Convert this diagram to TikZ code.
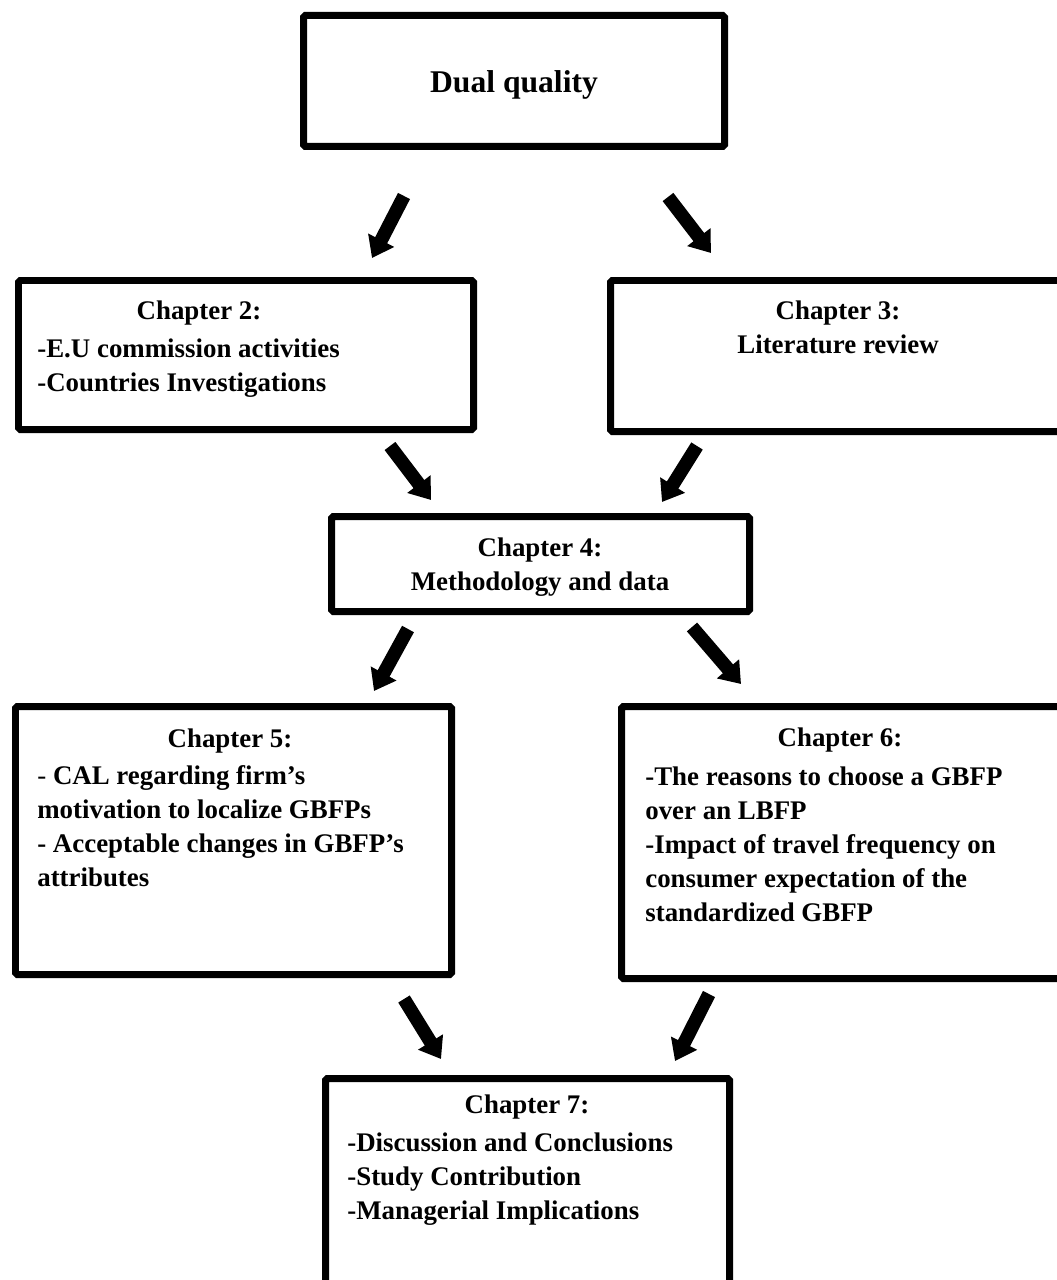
\documentclass[tikz,border=0pt]{standalone}
\usepackage{fontspec}
\setmainfont{Liberation Serif}
\usetikzlibrary{arrows.meta}

\tikzset{
  chapbox/.style={draw, line width=0.14cm, rounded corners=1pt, inner sep=0pt},
  chaptext/.style={font=\fontsize{15.3}{19.35}\selectfont\bfseries, inner sep=0pt},
  bigarrow/.style={line width=0.27cm, -{Triangle[width=0.56cm,length=0.4cm]}}
}

\begin{document}
\begin{tikzpicture}[x=0.02cm, y=-0.02cm]
  \useasboundingbox (0,0) rectangle (1057,1280);
  \clip (0,0) rectangle (1057,1280);

  % Define the ends of the arrows
  \coordinate (a1) at (404,196);  \coordinate (a1e) at (372,258);
  \coordinate (a2) at (668,197);  \coordinate (a2e) at (711,253);
  \coordinate (a3) at (390,446);  \coordinate (a3e) at (431,500);
  \coordinate (a4) at (697,446);  \coordinate (a4e) at (662,502);
  \coordinate (a5) at (408,629);  \coordinate (a5e) at (374,691);
  \coordinate (a6) at (692,627);  \coordinate (a6e) at (741,684);
  \coordinate (a7) at (404,999);  \coordinate (a7e) at (441,1059);
  \coordinate (a8) at (709,994);  \coordinate (a8e) at (675,1061);

  % Draw the boxes
  \node[chapbox, minimum width=421*0.02cm, minimum height=131*0.02cm] (dual) at (514,81) {};
  \node[chapbox, minimum width=455*0.02cm, minimum height=149*0.02cm] (ch2) at (246,355) {};
  \node[chapbox, minimum width=461*0.02cm, minimum height=151*0.02cm] (ch3) at (841,356) {};
  \node[chapbox, minimum width=418*0.02cm, minimum height=95*0.02cm] (ch4) at (540.5,564) {};
  \node[chapbox, minimum width=436*0.02cm, minimum height=268*0.02cm] (ch5) at (233.5,840.5) {};
  \node[chapbox, minimum width=450*0.02cm, minimum height=272*0.02cm] (ch6) at (846.5,842.5) {};
  \node[chapbox, minimum width=404*0.02cm, minimum height=240*0.02cm] (ch7) at (527.5,1198.5) {};

  % Texts in the boxes
  \node[chaptext, font=\fontsize{18}{22}\selectfont\bfseries] (dualt) at (514,85) {Dual quality};
  \node[chaptext] (ch2t) at (199,313) {Chapter 2:};
  \node[chaptext, align=left, anchor=north west] (ch2l) at (37,338)
    {-E.U commission activities\\-Countries Investigations};
  \node[chaptext, align=center, anchor=north] (ch3t) at (838,300) {Chapter 3:\\Literature review};
  \node[chaptext, align=center, anchor=north] (ch4t) at (540,537) {Chapter 4:\\Methodology and data};
  \node[chaptext] (ch5t) at (230,741) {Chapter 5:};
  \node[chaptext, align=left, anchor=north west] (ch5l) at (37,765)
    {{\mdseries -} CAL regarding firm’s\\motivation to localize GBFPs\\- Acceptable changes in GBFP’s\\attributes};
  \node[chaptext] (ch6t) at (840,740) {Chapter 6:};
  \node[chaptext, align=left, anchor=north west] (ch6l) at (645,766)
    {-The reasons to choose a GBFP\\over an LBFP\\-Impact of travel frequency on\\consumer expectation of the\\standardized GBFP};
  \node[chaptext] (ch7t) at (527,1107) {Chapter 7:};
  \node[chaptext, align=left, anchor=north west] (ch7l) at (347,1132)
    {-Discussion and Conclusions\\-Study Contribution\\-Managerial Implications};

  % Draw the arrows
  \draw[bigarrow] (a1) -- (a1e);
  \draw[bigarrow] (a2) -- (a2e);
  \draw[bigarrow] (a3) -- (a3e);
  \draw[bigarrow] (a4) -- (a4e);
  \draw[bigarrow] (a5) -- (a5e);
  \draw[bigarrow] (a6) -- (a6e);
  \draw[bigarrow] (a7) -- (a7e);
  \draw[bigarrow] (a8) -- (a8e);
\end{tikzpicture}
\end{document}
